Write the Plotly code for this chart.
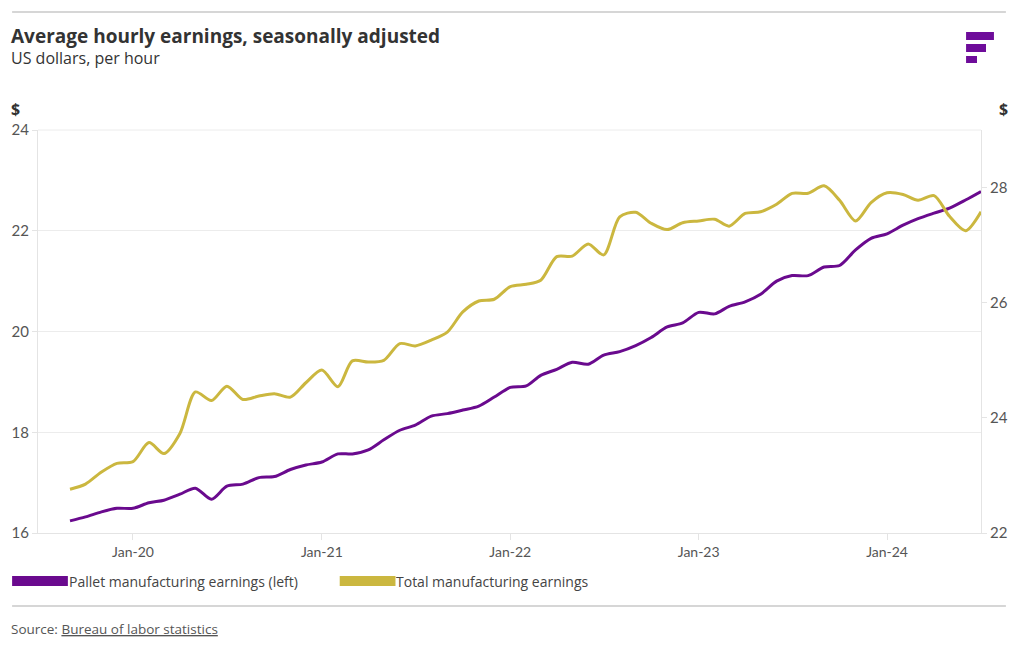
import plotly.graph_objects as go
import pandas as pd

# ---- data (monthly, Sep 2019 - Jul 2024) ----
months = pd.date_range("2019-09-01", "2024-07-01", freq="MS")
pallet = [16.24, 16.32, 16.42, 16.49, 16.49, 16.60, 16.65, 16.77, 16.89, 16.67,
          16.93, 16.97, 17.10, 17.12, 17.26, 17.35, 17.41, 17.57, 17.57, 17.65,
          17.85, 18.04, 18.14, 18.32, 18.37, 18.44, 18.52, 18.70, 18.89, 18.92,
          19.13, 19.25, 19.39, 19.35, 19.53, 19.60, 19.72, 19.88, 20.09, 20.17,
          20.38, 20.35, 20.50, 20.59, 20.74, 21.00, 21.11, 21.11, 21.28, 21.31,
          21.62, 21.85, 21.94, 22.11, 22.24, 22.35, 22.45, 22.61, 22.78]
total = [22.76, 22.85, 23.06, 23.21, 23.24, 23.57, 23.38, 23.73, 24.45, 24.30,
         24.55, 24.32, 24.38, 24.42, 24.36, 24.61, 24.83, 24.54, 24.99, 24.97,
         25.00, 25.29, 25.25, 25.35, 25.49, 25.84, 26.03, 26.06, 26.28, 26.32,
         26.39, 26.80, 26.81, 27.02, 26.83, 27.49, 27.57, 27.38, 27.27, 27.39,
         27.42, 27.45, 27.33, 27.55, 27.58, 27.71, 27.90, 27.90, 28.03, 27.78,
         27.42, 27.74, 27.91, 27.88, 27.78, 27.86, 27.50, 27.25, 27.58]
left_ticks = [16, 18, 20, 22, 24]
right_ticks = [22, 24, 26, 28]
series_names = ["Pallet manufacturing earnings (left)", "Total manufacturing earnings"]

PURPLE = "#6a0a8e"
GOLD = "#cbb73f"
FONT = "Open Sans"
TICKFONT = "Lato"

fig = go.Figure()
fig.add_trace(go.Scatter(x=months, y=total, yaxis="y2", mode="lines",
                         line=dict(color=GOLD, width=3, shape="spline", smoothing=0.8),
                         name=series_names[1], showlegend=False))
fig.add_trace(go.Scatter(x=months, y=pallet, mode="lines",
                         line=dict(color=PURPLE, width=3, shape="spline", smoothing=0.8),
                         name=series_names[0], showlegend=False))

L, R, T, B = 37, 984, 130, 533
W, H = 1020, 650

def px(x):
    return (x - L) / (R - L)

def py(y):
    return (B - y) / (B - T)

axis_common = dict(linecolor="#e4e4e4", linewidth=1, ticks="outside", ticklen=5,
                   tickcolor="#e4e4e4", tickfont=dict(family=TICKFONT, size=15, color="#555"),
                   zeroline=False)

fig.update_layout(
    width=W, height=H, autosize=False,
    margin=dict(l=L, r=W - R, t=T, b=H - B),
    paper_bgcolor="white", plot_bgcolor="white",
    font=dict(family=FONT, color="#333"),
    xaxis=dict(type="date", range=["2019-07-01", "2024-07-01"], tick0="2020-01-01",
               dtick="M12", tickformat="%b-%y", showgrid=False, showline=True,
               linecolor="#e4e4e4", ticks="outside", ticklen=6, tickcolor="#e4e4e4",
               tickfont=dict(family=TICKFONT, size=14, color="#555")),
    yaxis=dict(range=[16, 24], tickvals=left_ticks, showgrid=True, gridcolor="#ececec",
               showline=True, mirror=False, **axis_common),
    yaxis2=dict(range=[22, 29], tickvals=right_ticks, overlaying="y", side="right",
                showgrid=False, showline=True, **axis_common),
    showlegend=False,
)

shapes = []
# top and bottom rules
shapes.append(dict(type="line", xref="paper", yref="paper", x0=px(11), x1=px(1009),
                   y0=py(12), y1=py(12), line=dict(color="#d6d6d6", width=2)))
shapes.append(dict(type="line", xref="paper", yref="paper", x0=px(11), x1=px(1009),
                   y0=py(606), y1=py(606), line=dict(color="#d6d6d6", width=2)))
# top border of plot
shapes.append(dict(type="line", xref="paper", yref="paper", x0=0, x1=1,
                   y0=1, y1=1, line=dict(color="#ececec", width=1)))
# logo bars
for (x0, x1, y0, y1) in [(969, 997, 32, 40), (969, 989, 44, 52), (969, 980, 56, 63)]:
    shapes.append(dict(type="rect", xref="paper", yref="paper", x0=px(x0), x1=px(x1),
                       y0=py(y1), y1=py(y0), fillcolor="#6e0c9a", line=dict(width=0)))
# legend swatches
for (x0, col) in [(11, PURPLE), (340, GOLD)]:
    shapes.append(dict(type="rect", xref="paper", yref="paper", x0=px(x0), x1=px(x0 + 56),
                       y0=py(586), y1=py(576), fillcolor=col, line=dict(width=0)))
fig.update_layout(shapes=shapes)

ann = []
def text(x, y, s, size, color="#333", anchor="left", family=FONT):
    ann.append(dict(xref="paper", yref="paper", x=px(x), y=py(y), text=s, showarrow=False,
                    xanchor=anchor, yanchor="middle", font=dict(family=family, size=size, color=color)))

text(8, 36, "<b>Average hourly earnings, seasonally adjusted</b>", 19, "#333")
text(8, 58, "US dollars, per hour", 16, "#333")
text(8, 109, "<b>$</b>", 16, "#333")
text(1013, 109, "<b>$</b>", 16, "#333", anchor="right")
text(66, 581, series_names[0], 14, "#444")
text(395, 581, series_names[1], 14, "#444")
text(8, 629, "Source: <u>Bureau of labor statistics</u>", 13.5, "#555")
fig.update_layout(annotations=ann)

fig.write_html("out.html", config={"displayModeBar": False},
               post_script="document.body.style.margin='0px';document.body.style.overflow='hidden';")
